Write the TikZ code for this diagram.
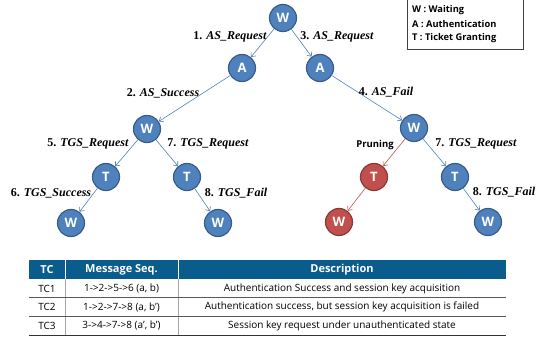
\documentclass[tikz,border=0pt]{standalone}
\usepackage{fontspec}
\setmainfont{Liberation Serif}
\newfontfamily\osans{Open Sans}
\usetikzlibrary{arrows.meta}
\definecolor{nodeblue}{RGB}{79,129,189}
\definecolor{nodeblueborder}{RGB}{56,93,138}
\definecolor{nodered}{RGB}{192,80,77}
\definecolor{noderedborder}{RGB}{140,56,54}
\definecolor{edgeblue}{RGB}{79,129,189}
\definecolor{headblue}{RGB}{10,92,140}
\begin{document}
\begin{tikzpicture}[x=1pt,y=-1pt,
  st/.style={circle,minimum size=27pt,inner sep=0pt,fill=nodeblue,draw=nodeblueborder,line width=1.2pt,text=white,font=\osans\bfseries\fontsize{13}{13}\selectfont},
  stred/.style={st,fill=nodered,draw=noderedborder},
  edge/.style={draw=edgeblue,line width=0.6pt,-{Straight Barb[length=3.5pt,width=6pt]}},
  edgered/.style={edge,draw=nodered},
  lab/.style={font=\bfseries\fontsize{12}{14}\selectfont,inner sep=0pt},
  prun/.style={font=\osans\bfseries\fontsize{9.5}{11}\selectfont,inner sep=0pt},
  legendtxt/.style={font=\osans\bfseries\fontsize{9.3}{11}\selectfont,anchor=west,inner sep=0pt},
  cell/.style={font=\osans\fontsize{10}{12}\selectfont,inner sep=0pt},
  headcell/.style={font=\osans\bfseries\fontsize{11}{12}\selectfont,text=white,inner sep=0pt},
  rowline/.style={draw=black!65,line width=0.6pt},
  colline/.style={draw=black!35,line width=0.5pt}]
\useasboundingbox (0,0) rectangle (541,337);

% legend
\draw[draw=black!75,line width=0.6pt] (407,-2) rectangle (523,49);
\node[legendtxt] (l1) at (412,10) {W : Waiting};
\node[legendtxt] (l2) at (412,24) {A : Authentication};
\node[legendtxt] (l3) at (412,38) {T : Ticket Granting};

% states
\node[st] (w0) at (283,18) {W};
\node[st] (a1) at (242,68) {A};
\node[st] (a2) at (320,68) {A};
\node[st] (w1) at (147,129) {W};
\node[st] (w2) at (414,128) {W};
\node[st] (t1) at (106,177) {T};
\node[st] (t2) at (187,177) {T};
\node[stred] (tr) at (374,177) {T};
\node[st] (t3) at (455,177) {T};
\node[st] (w3) at (71,223) {W};
\node[st] (w4) at (218,223) {W};
\node[stred] (wr) at (339,222) {W};
\node[st] (w5) at (488,222) {W};

% edges
\draw[edge] (w0) -- (a1);
\draw[edge] (w0) -- (a2);
\draw[edge] (a1) -- (w1);
\draw[edge] (a2) -- (w2);
\draw[edge] (w1) -- (t1);
\draw[edge] (w1) -- (t2);
\draw[edge] (t1) -- (w3);
\draw[edge] (t2) -- (w4);
\draw[edgered] (w2) -- (tr);
\draw[edge] (w2) -- (t3);
\draw[edgered] (tr) -- (wr);
\draw[edge] (t3) -- (w5);

% labels
\node[lab] (e1) at (230,37) {1. \textit{AS\_Request}};
\node[lab] (e3) at (337,37) {3. \textit{AS\_Request}};
\node[lab] (e2) at (163,93) {2. \textit{AS\_Success}};
\node[lab] (e4) at (386,92) {4. \textit{AS\_Fail}};
\node[lab] (e5) at (88,144) {5. \textit{TGS\_Request}};
\node[lab] (e7a) at (208,144) {7. \textit{TGS\_Request}};
\node[lab] (e6) at (51,193) {6. \textit{TGS\_Success}};
\node[lab] (e8a) at (236,193) {8. \textit{TGS\_Fail}};
\node[prun] (pr) at (375,145) {Pruning};
\node[lab] (e7b) at (476,144) {7. \textit{TGS\_Request}};
\node[lab] (e8b) at (504,192) {8. \textit{TGS\_Fail}};

% table
\fill[headblue] (29,260) rectangle (506,279);
\draw[white,line width=0.6pt] (65,260) -- (65,279) (178,260) -- (178,279);
\draw[colline] (65,279) -- (65,335) (178,279) -- (178,335);
\draw[rowline] (29,297.5) -- (506,297.5);
\draw[rowline] (29,316) -- (506,316);
\draw[draw=black!80,line width=0.8pt] (29,335) -- (506,335);

\node[headcell] (h1) at (47,269.5) {TC};
\node[headcell] (h2) at (121.5,269.5) {Message Seq.};
\node[headcell] (h3) at (342,269.5) {Description};

\node[cell] (c11) at (47,288.5) {TC1};
\node[cell] (c12) at (121.5,288.5) {1->2->5->6 (a, b)};
\node[cell] (c13) at (342,288.5) {Authentication Success and session key acquisition};
\node[cell] (c21) at (47,307) {TC2};
\node[cell] (c22) at (121.5,307) {1->2->7->8 (a, b’)};
\node[cell] (c23) at (342,307) {Authentication success, but session key acquisition is failed};
\node[cell] (c31) at (47,325.5) {TC3};
\node[cell] (c32) at (121.5,325.5) {3->4->7->8 (a’, b’)};
\node[cell] (c33) at (342,325.5) {Session key request under unauthenticated state};
\end{tikzpicture}
\end{document}
